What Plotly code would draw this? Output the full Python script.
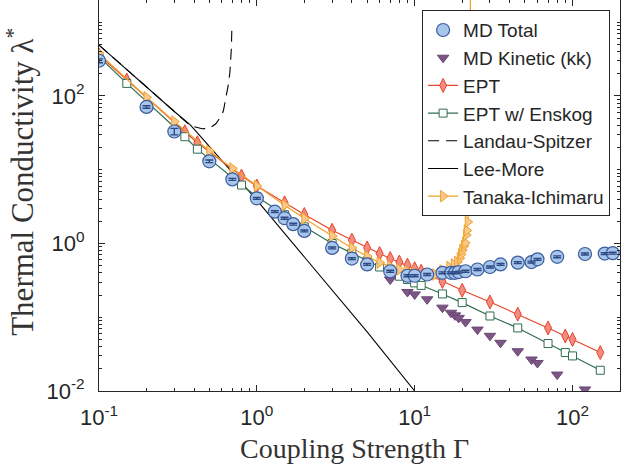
import plotly.graph_objects as go

# ---------------- data ----------------
gamma_md = [0.1, 0.2, 0.3, 0.5, 0.7, 1.0, 1.3, 1.5, 1.7, 2.0, 3.0, 4.0, 5.0, 7.0, 9.0, 10,
            12, 15, 17, 18, 19, 21, 25, 30, 35, 45, 55, 60, 80, 120, 160, 180]
lam_md_total = [300, 71, 33, 13, 7.4, 4.1, 2.7, 2.2, 1.83, 1.48, 0.87, 0.625, 0.52, 0.42, 0.365, 0.365,
                0.38, 0.40, 0.40, 0.40, 0.41, 0.42, 0.444, 0.48, 0.52, 0.55, 0.56, 0.61, 0.66, 0.72, 0.73, 0.74]
md_err_pct = [6, 4, 10, 4, 3, 3, 3, 3, 3, 3, 3, 3, 3, 3, 3, 3,
              3, 3, 3, 3, 3, 3, 3, 3, 3, 3, 3, 3, 3, 3, 3, 3]

gamma_kin = [7, 9, 10, 12, 15, 17, 18, 19, 21, 25, 30, 35, 45, 55, 60, 80, 120]
lam_kin = [0.325, 0.22, 0.204, 0.175, 0.135, 0.115, 0.106, 0.098, 0.086, 0.068, 0.056, 0.045,
           0.0346, 0.0267, 0.024, 0.0167, 0.0105]

gamma_ept = [0.1, 0.15, 0.35, 0.42, 0.8, 1.0, 1.5, 2, 3, 4, 5, 6, 7, 8, 9, 10, 11, 15, 20, 30,
             45, 70, 90, 100, 150]
lam_ept = [360, 164, 32.7, 23.2, 8.2, 6.0, 3.56, 2.47, 1.51, 1.11, 0.87, 0.73, 0.625, 0.56, 0.508,
           0.455, 0.42, 0.305, 0.232, 0.161, 0.11, 0.0716, 0.0557, 0.05, 0.0332]
lam_enskog = [340, 148, 28, 19, 6.2, 4.3, 2.45, 1.68, 1.0, 0.74, 0.58, 0.48, 0.41, 0.36, 0.325,
              0.292, 0.27, 0.207, 0.158, 0.104, 0.0716, 0.044, 0.0332, 0.0299, 0.0191]

gamma_ls = [0.1, 0.2, 0.3, 0.38, 0.45, 0.5, 0.55, 0.6, 0.615, 0.64, 0.662, 0.675, 0.685, 0.69, 0.695]
lam_ls = [490, 131, 62, 39.5, 36, 36.3, 42, 55, 64, 95, 148, 210, 307, 450, 870]

gamma_lm = [0.1, 0.2, 0.3, 0.38, 0.5, 0.7, 1.0, 2.0, 5.0, 10.0]
lam_lm = [490, 131, 61.6, 40.3, 20.6, 9.1, 3.87, 0.656, 0.0633, 0.01]

gamma_ti = [0.1, 0.2, 0.3, 0.5, 0.7, 1.0, 1.5, 2, 3, 4, 5, 6, 7, 8, 9, 10, 12, 13.5, 15, 16.6,
            17.7, 18.6, 19.3, 19.7, 20, 20.5, 20.9, 21.2, 21.4, 21.7, 22.4, 22.6]
lam_ti = [378, 96, 45, 18, 10.4, 6.0, 3.3, 2.18, 1.26, 0.87, 0.67, 0.55, 0.49, 0.444, 0.42, 0.40,
          0.385, 0.38, 0.43, 0.48, 0.52, 0.56, 0.63, 0.71, 0.81, 0.92, 1.02, 1.3, 1.5, 1.96, 3.67, 10000]

x_major = [0.1, 1, 10, 100]
x_major_text = ["10<sup>-1</sup>", "10<sup>0</sup>", "10<sup>1</sup>", "10<sup>2</sup>"]
y_major = [0.01, 1, 100]
y_major_text = ["10<sup>-2</sup>", "10<sup>0</sup>", "10<sup>2</sup>"]

x_minor = [m * 10 ** e for e in (-1, 0, 1, 2) for m in range(2, 10)]
y_minor = [m * 10 ** e for e in (-2, -1, 0, 1, 2, 3) for m in range(1, 10)]
y_minor = [v for v in y_minor if v not in (0.01, 1, 100)]

# ---------------- figure ----------------
fig = go.Figure()

fig.add_trace(go.Scatter(x=gamma_ls, y=lam_ls, mode="lines", name="Landau-Spitzer",
                         line=dict(color="black", width=1.1, dash="11px,7px"), legendrank=5))
fig.add_trace(go.Scatter(x=gamma_lm, y=lam_lm, mode="lines", name="Lee-More",
                         line=dict(color="black", width=1.1), legendrank=6))
fig.add_trace(go.Scatter(x=gamma_ept, y=lam_ept, mode="lines+markers", name="EPT",
                         line=dict(color="#e8452b", width=1.2),
                         marker=dict(symbol="diamond-tall", size=10, color="#f28b80",
                                     line=dict(color="#e8452b", width=1)), legendrank=3))
fig.add_trace(go.Scatter(x=gamma_ept, y=lam_enskog, mode="lines+markers", name="EPT w/ Enskog",
                         line=dict(color="#2f6e4f", width=1.2),
                         marker=dict(symbol="square", size=8, color="white",
                                     line=dict(color="#2f6e4f", width=1)), legendrank=4))
fig.add_trace(go.Scatter(x=gamma_ti, y=lam_ti, mode="lines+markers", name="Tanaka-Ichimaru",
                         line=dict(color="#f0a028", width=1.2),
                         marker=dict(symbol="triangle-right", size=10, color="#f9c98c",
                                     line=dict(color="#f0a028", width=1)), legendrank=7))
fig.add_trace(go.Scatter(x=gamma_kin, y=lam_kin, mode="markers", name="MD Kinetic (kk)",
                         marker=dict(symbol="triangle-down", size=10, color="#7d5686",
                                     line=dict(color="#6a4775", width=1)), legendrank=2))
fig.add_trace(go.Scatter(x=gamma_md, y=lam_md_total, mode="markers", name="MD Total",
                         marker=dict(symbol="circle", size=13, color="#a8c6eb",
                                     line=dict(color="#3b5d9c", width=1.2)), legendrank=1))
err_abs = [v * p / 100 for v, p in zip(lam_md_total, md_err_pct)]
fig.add_trace(go.Scatter(x=gamma_md, y=lam_md_total, mode="markers", showlegend=False,
                         marker=dict(size=1, color="rgba(0,0,0,0)"),
                         error_y=dict(type="data", array=err_abs, visible=True,
                                      color="#2b4a85", thickness=1.4, width=4),
                         hoverinfo="skip"))

axis_common = dict(type="log", showline=True, linecolor="#262626", linewidth=1,
                   mirror="allticks", ticks="inside", ticklen=6, tickwidth=1, tickcolor="#262626",
                   showgrid=False, zeroline=False,
                   tickfont=dict(family="Liberation Sans, Arial, sans-serif", size=22, color="#262626"))

fig.update_xaxes(**axis_common, range=[-1, 2.30103], tickmode="array",
                 tickvals=x_major, ticktext=x_major_text,
                 minor=dict(tickmode="array", tickvals=x_minor, ticks="inside", ticklen=3,
                            tickcolor="#262626", tickwidth=1, showgrid=False),
                 ticklabelstandoff=7)
fig.update_yaxes(**axis_common, range=[-2, 3.30103], tickmode="array",
                 tickvals=y_major, ticktext=y_major_text,
                 minor=dict(tickmode="array", tickvals=y_minor, ticks="inside", ticklen=3,
                            tickcolor="#262626", tickwidth=1, showgrid=False),
                 ticklabelstandoff=9)

fig.add_annotation(text="Coupling Strength Γ", xref="paper", yref="paper", x=0.49, y=0,
                   yshift=-57, xanchor="center", yanchor="middle", showarrow=False,
                   font=dict(family="Liberation Serif, Times New Roman, serif", size=28, color="#333333"))
fig.add_annotation(text="Thermal Conductivity λ<sup>*</sup>", xref="paper", yref="paper",
                   x=0, xshift=-78, y=0.535, xanchor="center", yanchor="middle", textangle=-90,
                   showarrow=False,
                   font=dict(family="Liberation Serif, Times New Roman, serif", size=31, color="#333333"))

fig.update_layout(
    width=640, height=469,
    margin=dict(l=99, r=20, t=0, b=78, pad=0),
    paper_bgcolor="white", plot_bgcolor="white",
    legend=dict(x=0.981, y=0.974, xanchor="right", yanchor="top",
                bgcolor="white", bordercolor="#262626", borderwidth=1,
                font=dict(family="Liberation Sans, Arial, sans-serif", size=19, color="#262626"),
                tracegroupgap=0, itemwidth=30),
    showlegend=True,
)

fig.write_html("out.html")
